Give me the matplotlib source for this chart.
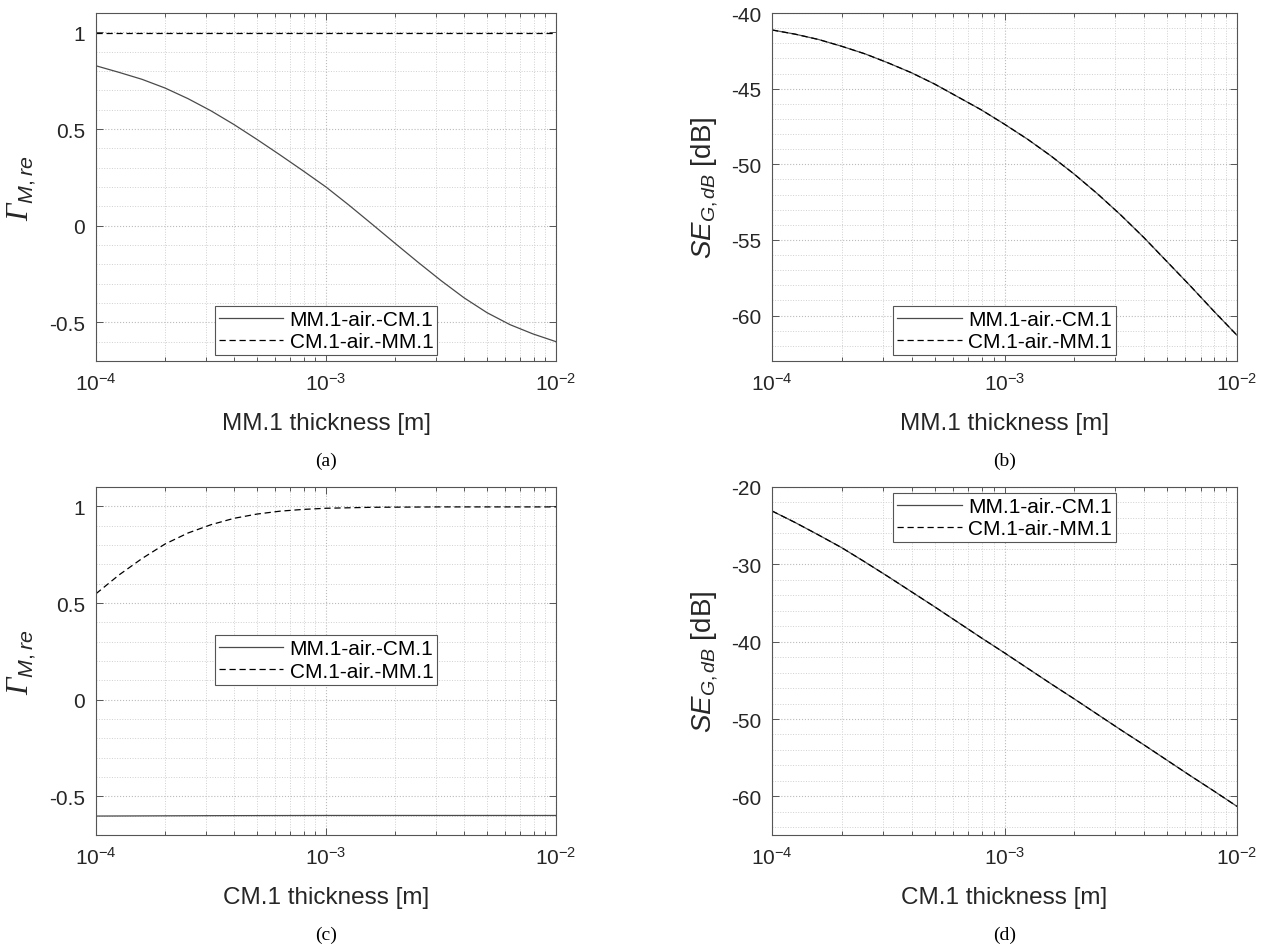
import matplotlib
matplotlib.use("Agg")
import matplotlib.pyplot as plt
from matplotlib.ticker import FixedLocator, FuncFormatter, LogLocator, MultipleLocator

plt.rcParams["font.family"] = ["Liberation Sans", "DejaVu Sans"]
plt.rcParams["mathtext.fontset"] = "custom"
plt.rcParams["mathtext.rm"] = "Liberation Sans"
plt.rcParams["mathtext.it"] = "Liberation Sans:italic"
plt.rcParams["mathtext.cal"] = "Liberation Serif:italic"
plt.rcParams["axes.unicode_minus"] = False

# ---- data ----
labels = ["MM.1-air.-CM.1", "CM.1-air.-MM.1"]
captions = ["(a)", "(b)", "(c)", "(d)"]

# thickness samples, as log10 exponents read along the x axis
exp_a = [-4.0, -3.9, -3.8, -3.7, -3.6, -3.5, -3.4, -3.3, -3.2, -3.1, -3.0,
         -2.9, -2.8, -2.7, -2.6, -2.5, -2.4, -2.3, -2.2, -2.1, -2.0]
exp_c = [-4.0, -3.9, -3.8, -3.7, -3.6, -3.5, -3.4, -3.3, -3.2, -3.1, -3.0, -2.8, -2.5, -2.0]
exp_flat = [-4.0, -3.5, -3.0, -2.0]

# (a) reflection vs MM.1 thickness
ya_solid = [0.827, 0.793, 0.757, 0.712, 0.657, 0.594, 0.523, 0.446, 0.366, 0.284, 0.200,
            0.106, 0.008, -0.091, -0.189, -0.284, -0.373, -0.45, -0.512, -0.56, -0.60]
ya_dash = [0.995, 0.995, 0.995, 0.995]

# (b) SE vs MM.1 thickness (both curves coincide)
yb_solid = [-41.12, -41.4, -41.75, -42.2, -42.7, -43.3, -43.95, -44.7, -45.55, -46.4, -47.35,
            -48.35, -49.45, -50.65, -51.95, -53.35, -54.85, -56.45, -58.05, -59.7, -61.3]
yb_dash = [-41.12, -41.4, -41.75, -42.2, -42.7, -43.3, -43.95, -44.7, -45.55, -46.4, -47.35,
           -48.35, -49.45, -50.65, -51.95, -53.35, -54.85, -56.45, -58.05, -59.7, -61.3]

# (c) reflection vs CM.1 thickness
yc_solid = [-0.602, -0.600, -0.599, -0.599]
yc_dash = [0.548, 0.645, 0.73, 0.805, 0.862, 0.905, 0.938, 0.960, 0.975, 0.984, 0.990,
           0.995, 0.997, 0.997]

# (d) SE vs CM.1 thickness (both curves coincide)
yd_solid = [-23.1, -24.6, -26.2, -27.85, -29.7, -31.6, -33.55, -35.5, -37.5, -39.5, -41.45,
            -43.45, -45.45, -47.4, -49.4, -51.4, -53.35, -55.35, -57.35, -59.3, -61.3]
yd_dash = [-23.1, -24.6, -26.2, -27.85, -29.7, -31.6, -33.55, -35.5, -37.5, -39.5, -41.45,
           -43.45, -45.45, -47.4, -49.4, -51.4, -53.35, -55.35, -57.35, -59.3, -61.3]

xa = [10 ** e for e in exp_a]
xc = [10 ** e for e in exp_c]
xflat = [10 ** e for e in exp_flat]

fig = plt.figure(figsize=(12.69, 9.45), dpi=100)
W, H = 1269, 945

def make_axes(left, right, top, bottom):
    return fig.add_axes([left / W, 1 - bottom / H, (right - left) / W, (bottom - top) / H])

ax_a = make_axes(96, 556, 14, 362)
ax_b = make_axes(772, 1237, 14, 362)
ax_c = make_axes(96, 556, 488, 836)
ax_d = make_axes(772, 1237, 488, 836)

gray = "#555555"
solid_col = "#4a4a4a"
fmt = FuncFormatter(lambda v, p: "%g" % v)

def style(ax, ylim, major, minor, xlabel, ylabel, ylabelsize):
    ax.set_xscale("log")
    ax.set_xlim(1e-4, 1e-2)
    ax.set_ylim(*ylim)
    ax.yaxis.set_major_locator(MultipleLocator(major))
    ax.yaxis.set_minor_locator(MultipleLocator(minor))
    ax.yaxis.set_major_formatter(fmt)
    ax.xaxis.set_major_locator(FixedLocator([1e-4, 1e-3, 1e-2]))
    ax.xaxis.set_minor_locator(LogLocator(base=10, subs=range(2, 10)))
    ax.grid(which="major", linestyle=":", color="#bbbbbb", linewidth=0.8)
    ax.grid(which="minor", linestyle=":", color="#d0d0d0", linewidth=0.7)
    ax.set_axisbelow(True)
    ax.tick_params(which="both", direction="in", top=True, right=True,
                   colors=gray, labelcolor="#262626", labelsize=15, width=0.7)
    ax.tick_params(which="major", length=5, pad=8)
    ax.tick_params(which="minor", length=3)
    ax.tick_params(axis="y", which="minor", length=0)
    for s in ax.spines.values():
        s.set_color(gray)
        s.set_linewidth(0.8)
    ax.set_xlabel(xlabel, fontsize=17.5, color="#262626", labelpad=13)
    ax.set_ylabel(ylabel, fontsize=ylabelsize, color="#262626", labelpad=8)

def legend(ax, loc, anchor):
    lg = ax.legend(loc=loc, bbox_to_anchor=anchor, fontsize=15, fancybox=False,
                   framealpha=1, edgecolor=gray, handlelength=3.1, handletextpad=0.3,
                   labelspacing=0.15, borderpad=0.2, borderaxespad=0)
    lg.get_frame().set_linewidth(0.8)

gamma_lab = r"$\mathcal{\Gamma}_{\mathit{M,re}}$"
se_lab = r"$\mathit{SE}_{\mathit{G,dB}}$ [dB]"
dash = (0, (5, 3))

ax_a.plot(xa, ya_solid, color=solid_col, lw=0.9, label=labels[0])
ax_a.plot(xflat, ya_dash, color="black", lw=0.9, linestyle=dash, label=labels[1])
style(ax_a, (-0.7, 1.1), 0.5, 0.1, "MM.1 thickness [m]", gamma_lab, 22)
legend(ax_a, "lower center", (0.5, 0.017))

ax_b.plot(xa, yb_solid, color=solid_col, lw=0.9, label=labels[0])
ax_b.plot(xa, yb_dash, color="black", lw=0.9, linestyle=dash, label=labels[1])
style(ax_b, (-63, -40), 5, 1, "MM.1 thickness [m]", se_lab, 20)
legend(ax_b, "lower center", (0.5, 0.017))

ax_c.plot(xflat, yc_solid, color=solid_col, lw=0.9, label=labels[0])
ax_c.plot(xc, yc_dash, color="black", lw=0.9, linestyle=dash, label=labels[1])
style(ax_c, (-0.7, 1.1), 0.5, 0.1, "CM.1 thickness [m]", gamma_lab, 22)
legend(ax_c, "center", (0.5, 0.503))

ax_d.plot(xa, yd_solid, color=solid_col, lw=0.9, label=labels[0])
ax_d.plot(xa, yd_dash, color="black", lw=0.9, linestyle=dash, label=labels[1])
style(ax_d, (-65, -20), 10, 2, "CM.1 thickness [m]", se_lab, 20)
legend(ax_d, "upper center", (0.5, 0.983))

for ax, cap in zip([ax_a, ax_b, ax_c, ax_d], captions):
    ax.text(0.5, -0.285, cap, transform=ax.transAxes, ha="center", va="center",
            fontsize=14, family="Liberation Serif", color="black")

fig.savefig("out.png", dpi=100)
